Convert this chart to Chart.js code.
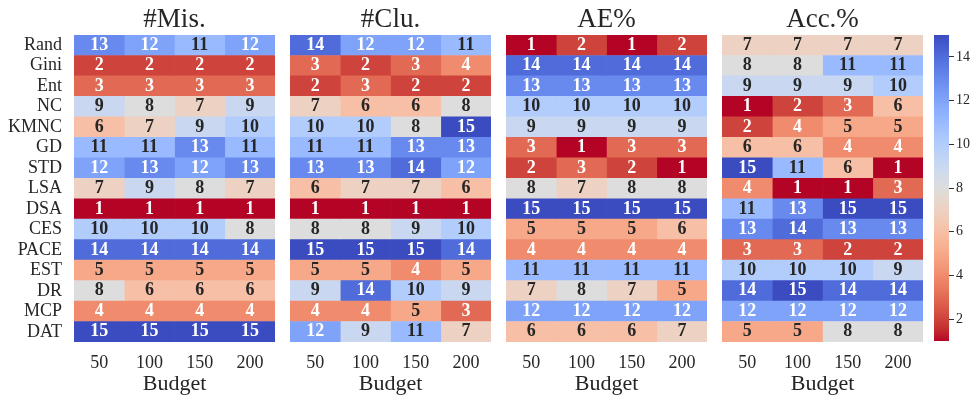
<!DOCTYPE html>
<html>
<head>
<meta charset="utf-8">
<script src="https://cdn.jsdelivr.net/npm/chart.js@4.4.1/dist/chart.umd.min.js"></script>
<style>
  html, body { margin: 0; padding: 0; background: #ffffff; }
  #wrap { position: relative; width: 976px; height: 397px; overflow: hidden; }
  #wrap canvas { position: absolute; top: 0; }
</style>
</head>
<body>
<div id="wrap">
  <canvas id="pMis" width="275" height="397" style="left:0px"></canvas>
  <canvas id="pClu" width="201" height="397" style="left:290px"></canvas>
  <canvas id="pAE" width="201" height="397" style="left:506px"></canvas>
  <canvas id="pAcc" width="201" height="397" style="left:722px"></canvas>
  <canvas id="cbar" width="42" height="397" style="left:934px"></canvas>
</div>
<script>
// Methods (rows) and labelling budgets (columns)
const methods = ['Rand', 'Gini', 'Ent', 'NC', 'KMNC', 'GD', 'STD', 'LSA', 'DSA', 'CES', 'PACE', 'EST', 'DR', 'MCP', 'DAT'];
const budgets = [50, 100, 150, 200];

// Rank of each method per budget, one row per method
const misRanks = [
  [13, 12, 11, 12], [2, 2, 2, 2], [3, 3, 3, 3], [9, 8, 7, 9], [6, 7, 9, 10],
  [11, 11, 13, 11], [12, 13, 12, 13], [7, 9, 8, 7], [1, 1, 1, 1], [10, 10, 10, 8],
  [14, 14, 14, 14], [5, 5, 5, 5], [8, 6, 6, 6], [4, 4, 4, 4], [15, 15, 15, 15]
];
const cluRanks = [
  [14, 12, 12, 11], [3, 2, 3, 4], [2, 3, 2, 2], [7, 6, 6, 8], [10, 10, 8, 15],
  [11, 11, 13, 13], [13, 13, 14, 12], [6, 7, 7, 6], [1, 1, 1, 1], [8, 8, 9, 10],
  [15, 15, 15, 14], [5, 5, 4, 5], [9, 14, 10, 9], [4, 4, 5, 3], [12, 9, 11, 7]
];
const aeRanks = [
  [1, 2, 1, 2], [14, 14, 14, 14], [13, 13, 13, 13], [10, 10, 10, 10], [9, 9, 9, 9],
  [3, 1, 3, 3], [2, 3, 2, 1], [8, 7, 8, 8], [15, 15, 15, 15], [5, 5, 5, 6],
  [4, 4, 4, 4], [11, 11, 11, 11], [7, 8, 7, 5], [12, 12, 12, 12], [6, 6, 6, 7]
];
const accRanks = [
  [7, 7, 7, 7], [8, 8, 11, 11], [9, 9, 9, 10], [1, 2, 3, 6], [2, 4, 5, 5],
  [6, 6, 4, 4], [15, 11, 6, 1], [4, 1, 1, 3], [11, 13, 15, 15], [13, 14, 13, 13],
  [3, 3, 2, 2], [10, 10, 10, 9], [14, 15, 14, 14], [12, 12, 12, 12], [5, 5, 8, 8]
];
const colorbarTicks = [2, 4, 6, 8, 10, 12, 14];
const rankMin = 1, rankMax = 15;

const SERIF = '"Liberation Serif", "Times New Roman", serif';
const TEXT = '#262626';

// Diverging cool-warm colour table (blue -> grey -> red), 33 evenly spaced stops
const COOLWARM = [
  [59,76,192],[68,90,204],[77,104,215],[87,117,225],[98,130,234],[108,142,241],
  [119,154,247],[130,165,251],[141,176,254],[152,185,255],[163,194,255],[174,201,253],
  [184,208,249],[194,213,244],[204,217,238],[213,219,230],[221,221,221],[229,216,209],
  [236,211,197],[241,204,185],[245,196,173],[247,187,160],[247,177,148],[247,166,135],
  [244,154,123],[241,141,111],[236,127,99],[229,112,88],[222,96,77],[213,80,66],
  [203,62,56],[192,40,47],[180,4,38]
];
function coolwarm(t) {
  t = Math.min(1, Math.max(0, t));
  const p = t * (COOLWARM.length - 1);
  const i = Math.min(COOLWARM.length - 2, Math.floor(p));
  const f = p - i;
  const a = COOLWARM[i], b = COOLWARM[i + 1];
  return [0, 1, 2].map(k => a[k] + (b[k] - a[k]) * f);
}
// Reversed map: low rank is red, high rank is blue
function rankRGB(v) { return coolwarm(1 - (v - rankMin) / (rankMax - rankMin)); }
function rgbStr(c) { return 'rgb(' + c.map(x => Math.round(x)).join(',') + ')'; }
function rankColor(v) { return rgbStr(rankRGB(v)); }
function luminance(c) {
  const lin = c.map(x => { x /= 255; return x <= 0.03928 ? x / 12.92 : Math.pow((x + 0.055) / 1.055, 2.4); });
  return 0.2126 * lin[0] + 0.7152 * lin[1] + 0.0722 * lin[2];
}

// Writes each cell's rank in its centre, white on dark cells
const cellLabels = {
  id: 'cellLabels',
  afterDatasetsDraw(chart) {
    const ranks = chart.options.plugins.cellLabels.ranks;
    const ctx = chart.ctx;
    ctx.save();
    ctx.font = 'bold 18px ' + SERIF;
    ctx.textAlign = 'center';
    ctx.textBaseline = 'middle';
    chart.data.datasets.forEach((ds, j) => {
      chart.getDatasetMeta(j).data.forEach((el, i) => {
        const v = ranks[i][j];
        ctx.fillStyle = luminance(rankRGB(v)) > 0.408 ? TEXT : '#ffffff';
        ctx.fillText(String(v), (el.x + el.base) / 2, el.y);
      });
    });
    ctx.restore();
  }
};

function makePanel(id, title, ranks, showRows) {
  return new Chart(document.getElementById(id), {
    type: 'bar',
    data: {
      labels: methods,
      // one dataset per budget column; every cell spans one column unit
      datasets: budgets.map((b, j) => ({
        label: String(b),
        data: methods.map(() => 1),
        backgroundColor: ranks.map(r => rankColor(r[j])),
        borderWidth: 0,
        barPercentage: 1,
        categoryPercentage: 1
      }))
    },
    options: {
      indexAxis: 'y',
      responsive: false,
      animation: false,
      events: [],
      layout: { padding: 0 },
      plugins: {
        legend: { display: false },
        tooltip: { enabled: false },
        title: {
          display: true, text: title, fullSize: false, color: TEXT,
          font: { family: SERIF, size: 27, weight: 'normal', lineHeight: 1 },
          padding: { top: 6, bottom: 2 }
        },
        cellLabels: { ranks }
      },
      scales: {
        x: {
          type: 'linear', stacked: true, min: 0, max: budgets.length,
          grid: { display: false, drawTicks: false },
          border: { display: false },
          afterBuildTicks: s => { s.ticks = budgets.map((b, i) => ({ value: i + 0.5 })); },
          afterFit: s => { s.height = 55; },
          ticks: {
            autoSkip: false, maxRotation: 0, padding: 10, color: TEXT,
            font: { family: SERIF, size: 18 },
            callback: (v, i) => String(budgets[i])
          },
          title: {
            display: true, text: 'Budget', color: TEXT,
            font: { family: SERIF, size: 22 },
            padding: { top: 0, bottom: 0 }
          }
        },
        y: {
          type: 'category', stacked: true, display: showRows,
          grid: { display: false, drawTicks: false },
          border: { display: false },
          afterFit: s => { s.width = showRows ? 74 : 0; },
          ticks: { autoSkip: false, padding: 12, color: TEXT, font: { family: SERIF, size: 18 } }
        }
      }
    },
    plugins: [cellLabels]
  });
}

makePanel('pMis', '#Mis.', misRanks, true);
makePanel('pClu', '#Clu.', cluRanks, false);
makePanel('pAE', 'AE%', aeRanks, false);
makePanel('pAcc', 'Acc.%', accRanks, false);

// Colour bar: gradient painted along the rank scale
const colorbarFill = {
  id: 'colorbarFill',
  beforeDatasetsDraw(chart) {
    const { ctx, chartArea } = chart;
    const ys = chart.scales.y;
    const y0 = ys.getPixelForValue(rankMin), y1 = ys.getPixelForValue(rankMax);
    const g = ctx.createLinearGradient(0, y0, 0, y1);
    for (let k = 0; k <= 56; k++) {
      const v = rankMin + (rankMax - rankMin) * k / 56;
      g.addColorStop(k / 56, rankColor(v));
    }
    ctx.save();
    ctx.fillStyle = g;
    ctx.fillRect(chartArea.left, Math.min(y0, y1), chartArea.right - chartArea.left, Math.abs(y0 - y1));
    ctx.restore();
  }
};

new Chart(document.getElementById('cbar'), {
  type: 'scatter',
  data: { datasets: [{ data: [] }] },
  options: {
    responsive: false,
    animation: false,
    events: [],
    layout: { padding: { top: 35, bottom: 56, left: 0, right: 0 } },
    plugins: { legend: { display: false }, tooltip: { enabled: false } },
    scales: {
      x: { display: false, min: 0, max: 1 },
      y: {
        position: 'right', min: rankMin, max: rankMax,
        grid: { drawOnChartArea: false, drawTicks: true, tickLength: 5, color: '#333333', lineWidth: 1 },
        border: { display: false },
        afterBuildTicks: s => { s.ticks = colorbarTicks.map(v => ({ value: v })); },
        afterFit: s => { s.width = 27; },
        ticks: { padding: 2, color: TEXT, font: { family: SERIF, size: 14 } }
      }
    }
  },
  plugins: [colorbarFill]
});
</script>
</body>
</html>
